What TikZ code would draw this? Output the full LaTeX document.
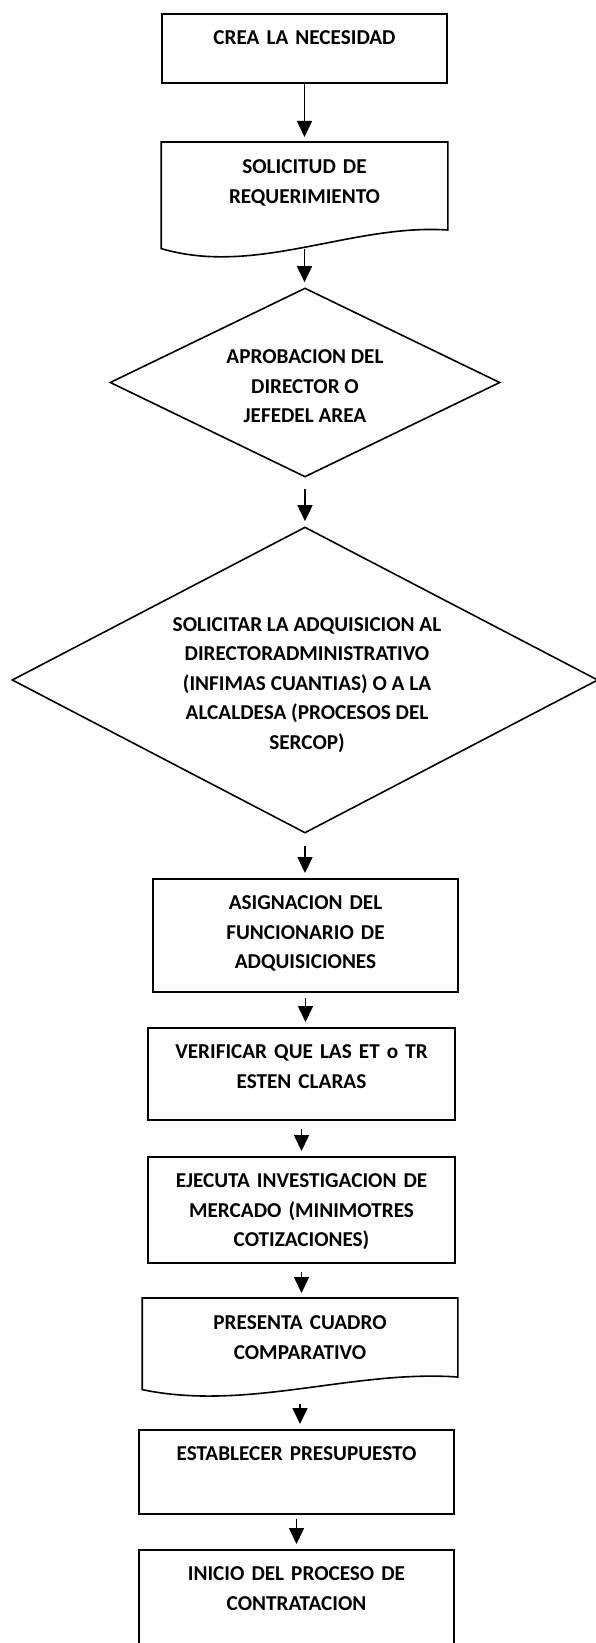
\documentclass[tikz,border=0pt]{standalone}
\usepackage{fontspec}
\setmainfont{Carlito}
\usetikzlibrary{arrows.meta,shapes.geometric,calc}

\begin{document}
\begin{tikzpicture}[x=1pt,y=-1pt,
		caja/.style={draw, line width=1.6pt, inner sep=0pt, anchor=north, align=center, text height=31pt, font=\bfseries\fontsize{21.2}{29.5}\selectfont},
		hoja/.style={caja, draw=none},
		rombo/.style={diamond, draw, line width=1.6pt, inner sep=0pt},
		texto/.style={align=center, font=\bfseries\fontsize{21.2}{29.5}\selectfont},
		flecha/.style={line width=1.6pt, -{Triangle[length=16pt,width=15pt]}, shorten >=5pt}]
		\useasboundingbox (0,0) rectangle (595,1643);
		\node[caja, text width=285pt, text depth=38pt] (b1) at (304.5,13) {CREA LA NECESIDAD};
		\node[hoja, text width=285pt, text depth=74pt] (b2) at (304.5,142) {SOLICITUD DE\\REQUERIMIENTO};
		\draw[line width=1.6pt] (b2.north west) -- (b2.north east) -- ($(b2.north east)+(0,88)$) .. controls ($(b2.south west)+(190,-25)$) and ($(b2.south west)+(95,28)$) .. (b2.south west) -- cycle;
		\node[rombo, minimum width=390pt, minimum height=189pt] (d1) at (305,382.5) {};
		\node[texto] (t1) at ($(d1)+(0,4)$) {APROBACION DEL\\DIRECTOR O\\JEFEDEL AREA};
		\node[rombo, minimum width=586pt, minimum height=306pt] (d2) at (305,680) {};
		\node[texto] (t2) at ($(d2)+(2,5)$) {SOLICITAR LA ADQUISICION AL\\DIRECTORADMINISTRATIVO\\(INFIMAS CUANTIAS) O A LA\\ALCALDESA (PROCESOS DEL\\SERCOP)};
		\node[caja, text width=305pt, text depth=82pt] (b3) at (305.5,878) {ASIGNACION DEL\\FUNCIONARIO DE\\ADQUISICIONES};
		\node[caja, text width=307pt, text depth=61pt] (b4) at (301.5,1027) {VERIFICAR QUE LAS ET o TR\\ESTEN CLARAS};
		\node[caja, text width=307pt, text depth=75pt] (b5) at (301.5,1156) {EJECUTA INVESTIGACION DE\\MERCADO (MINIMOTRES\\COTIZACIONES)};
		\node[hoja, text width=314pt, text depth=59pt] (b6) at (300,1298) {PRESENTA CUADRO\\COMPARATIVO};
		\draw[line width=1.6pt] (b6.north west) -- (b6.north east) -- ($(b6.north east)+(0,79)$) .. controls ($(b6.south west)+(210,-20)$) and ($(b6.south west)+(105,22)$) .. (b6.south west) -- cycle;
		\node[caja, text width=315pt, text depth=53pt] (b7) at (296.5,1429) {ESTABLECER PRESUPUESTO};
		\node[caja, text width=315pt, text depth=80pt] (b8) at (296.5,1549) {INICIO DEL PROCESO DE\\CONTRATACION};
		\draw[flecha] (b1.south) -- (b1.south |- b2.north);
		\draw[flecha] (b2.south) -- (b2.south |- d1.north);
		\draw[flecha, shorten <=11pt] (d1.south) -- (d1.south |- d2.north);
		\draw[flecha, shorten <=12pt] (d2.south) -- (d2.south |- b3.north);
		\draw[flecha, shorten <=5pt] (b3.south) -- (b3.south |- b4.north);
		\draw[flecha, shorten <=8pt] (b4.south) -- (b4.south |- b5.north);
		\draw[flecha, shorten <=8pt] (b5.south) -- (b5.south |- b6.north);
		\draw[flecha, shorten <=14pt] (b6.south) -- (b6.south |- b7.north);
		\draw[flecha, shorten <=4pt] (b7.south) -- (b7.south |- b8.north);
	\end{tikzpicture}
\end{document}
